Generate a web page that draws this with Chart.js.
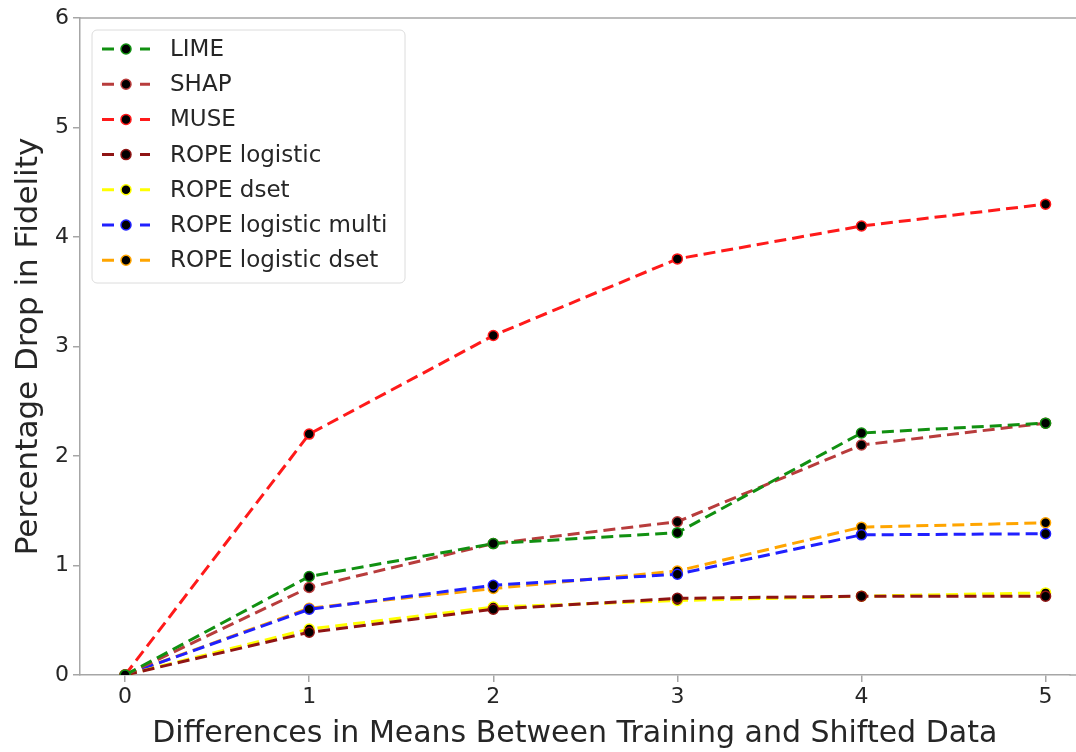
<!DOCTYPE html>
<html>
<head>
    <title>Percentage Drop in Fidelity</title>
    <style>
        body { margin: 0; padding: 0; background: #ffffff; }
        #wrap { width: 1076px; height: 752px; }
    </style>
    <script src="https://cdn.jsdelivr.net/npm/chart.js"></script>
</head>
<body>
<div id="wrap"><canvas id="chart" width="1076" height="752"></canvas></div>
<script>
    // data
    var shifts = [0, 1, 2, 3, 4, 5];
    var yTicks = [0, 1, 2, 3, 4, 5, 6];
    var seriesNames = ['LIME', 'SHAP', 'MUSE', 'ROPE logistic', 'ROPE dset', 'ROPE logistic multi', 'ROPE logistic dset'];
    var lime = [0, 0.9, 1.2, 1.3, 2.21, 2.3];
    var shap = [0, 0.8, 1.2, 1.4, 2.1, 2.3];
    var muse = [0, 2.2, 3.1, 3.8, 4.1, 4.3];
    var ropeLogistic = [0, 0.39, 0.6, 0.7, 0.72, 0.72];
    var ropeDset = [0, 0.42, 0.62, 0.68, 0.72, 0.75];
    var ropeLogisticMulti = [0, 0.6, 0.82, 0.92, 1.28, 1.29];
    var ropeLogisticDset = [0, 0.61, 0.79, 0.95, 1.35, 1.39];

    var seriesValues = [lime, shap, muse, ropeLogistic, ropeDset, ropeLogisticMulti, ropeLogisticDset];
    var seriesColors = ['#119011', '#b83c3c', '#ff1a1a', '#8f1414', '#ffff00', '#2020ff', '#ffa500'];

    var font = 'DejaVu Sans';
    var textColor = '#262626';
    var spineColor = '#a6a6a6';

    var datasets = [];
    for (var i = 0; i < seriesNames.length; i++) {
        var pts = [];
        for (var j = 0; j < shifts.length; j++) {
            pts.push({ x: shifts[j], y: seriesValues[i][j] });
        }
        datasets.push({
            label: seriesNames[i],
            data: pts,
            borderColor: seriesColors[i],
            borderWidth: 3,
            borderDash: [12, 6],
            pointRadius: 5,
            pointBackgroundColor: '#000000',
            pointBorderColor: seriesColors[i],
            pointBorderWidth: 1.5,
            fill: false,
            tension: 0
        });
    }

    // legend drawn inside the plot, spines run to the canvas edge
    var insideLegend = {
        id: 'insideLegend',
        afterDraw: function (chart) {
            var ctx = chart.ctx;
            var area = chart.chartArea;
            ctx.save();
            ctx.strokeStyle = spineColor;
            ctx.lineWidth = 1.5;
            ctx.beginPath();
            ctx.moveTo(area.left, area.top);
            ctx.lineTo(1076, area.top);
            ctx.moveTo(area.right, area.bottom);
            ctx.lineTo(1076, area.bottom);
            ctx.stroke();

            var x0 = 92, y0 = 30, w = 313, h = 253;
            ctx.fillStyle = 'rgba(255,255,255,0.85)';
            ctx.strokeStyle = '#dcdcdc';
            ctx.lineWidth = 1;
            ctx.beginPath();
            ctx.roundRect(x0, y0, w, h, 5);
            ctx.fill();
            ctx.stroke();

            var ds = chart.data.datasets;
            ctx.font = '23px "' + font + '"';
            ctx.textBaseline = 'middle';
            for (var k = 0; k < ds.length; k++) {
                var cy = y0 + 19 + k * 35.2;
                ctx.strokeStyle = ds[k].borderColor;
                ctx.lineWidth = 3;
                ctx.beginPath();
                ctx.moveTo(102, cy); ctx.lineTo(114, cy);
                ctx.moveTo(140, cy); ctx.lineTo(150, cy);
                ctx.stroke();
                ctx.fillStyle = '#000000';
                ctx.strokeStyle = ds[k].borderColor;
                ctx.lineWidth = 1.5;
                ctx.beginPath();
                ctx.arc(126, cy, 5, 0, Math.PI * 2);
                ctx.fill();
                ctx.stroke();
                ctx.fillStyle = textColor;
                ctx.fillText(ds[k].label, 170, cy + 1);
            }
            ctx.restore();
        }
    };

    var ctx = document.getElementById('chart').getContext('2d');
    var myChart = new Chart(ctx, {
        type: 'line',
        data: { datasets: datasets },
        options: {
            responsive: false,
            animation: false,
            layout: { padding: { top: 18, right: 0, left: 0, bottom: 0 } },
            plugins: {
                legend: { display: false },
                tooltip: { enabled: false }
            },
            scales: {
                x: {
                    type: 'linear',
                    min: -0.245,
                    max: 5.13,
                    afterBuildTicks: function (axis) {
                        axis.ticks = shifts.map(function (v) { return { value: v }; });
                    },
                    afterFit: function (axis) { axis.height = 77; },
                    grid: { drawOnChartArea: false, tickLength: 7, color: spineColor, lineWidth: 1.5 },
                    border: { display: true, color: spineColor, width: 1.5 },
                    ticks: { color: textColor, font: { family: font, size: 22 }, padding: 2, maxRotation: 0 },
                    title: {
                        display: true,
                        text: 'Differences in Means Between Training and Shifted Data',
                        color: textColor,
                        font: { family: font, size: 30 },
                        padding: { top: 2, bottom: 0 }
                    }
                },
                y: {
                    type: 'linear',
                    min: 0,
                    max: 6,
                    afterBuildTicks: function (axis) {
                        axis.ticks = yTicks.map(function (v) { return { value: v }; });
                    },
                    afterFit: function (axis) { axis.width = 80; },
                    grid: { drawOnChartArea: false, tickLength: 7, color: spineColor, lineWidth: 1.5 },
                    border: { display: true, color: spineColor, width: 1.5 },
                    ticks: { color: textColor, font: { family: font, size: 22 }, padding: 4 },
                    title: {
                        display: true,
                        text: 'Percentage Drop in Fidelity',
                        color: textColor,
                        font: { family: font, size: 31 },
                        padding: { top: 10, bottom: 0 }
                    }
                }
            }
        },
        plugins: [insideLegend]
    });
</script>
</body>
</html>
